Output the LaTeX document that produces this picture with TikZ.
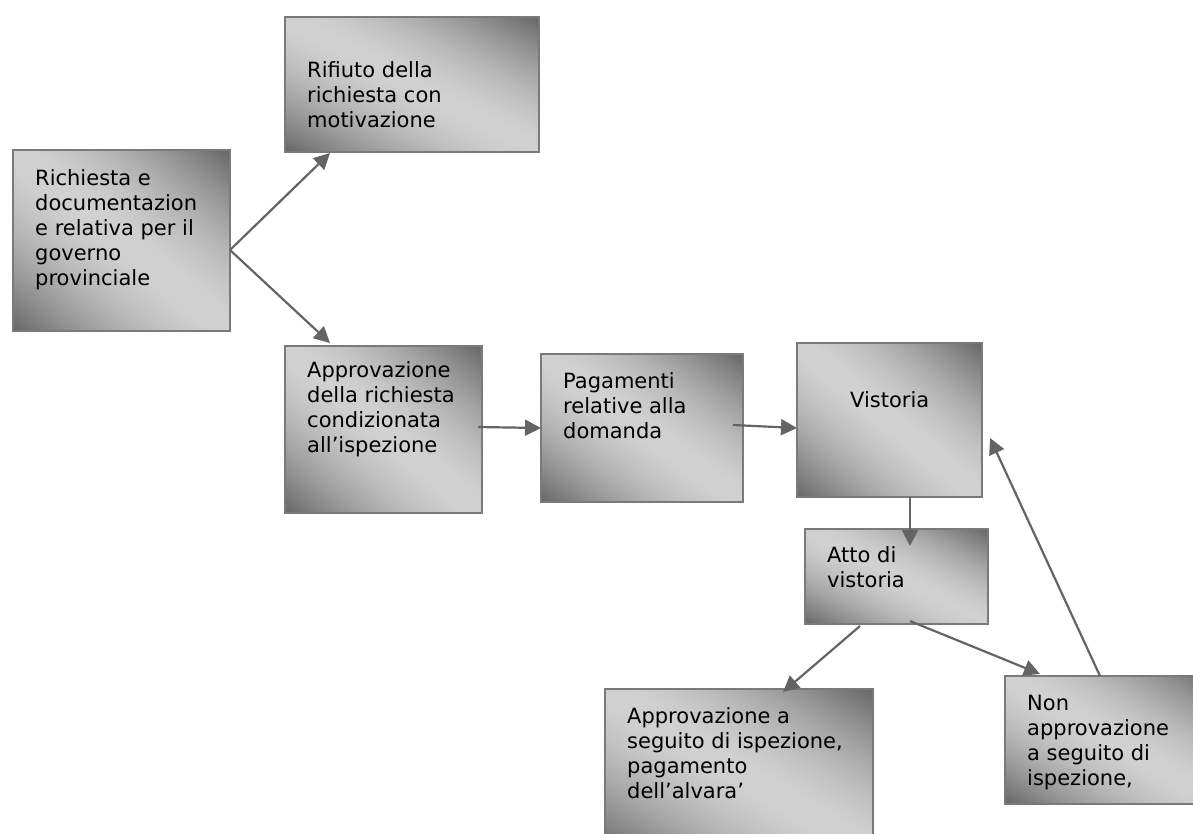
\documentclass[tikz,border=0pt]{standalone}
\usepackage{fontspec}
\setmainfont{DejaVu Sans}
\usetikzlibrary{arrows.meta,calc}
\definecolor{edge}{HTML}{7A7A7A}
\definecolor{arr}{HTML}{646464}
\pgfdeclarefunctionalshading{boxshade}{\pgfpoint{0bp}{0bp}}{\pgfpoint{100bp}{100bp}}{}{
  exch 25 sub 50 div exch 25 sub 50 div add 1 sub abs 1.6 exp 0.42 mul 0.82 exch sub dup dup }
\newcommand\boxlines[1]{\begin{tabular}[t]{@{}l@{}}#1\end{tabular}}
\begin{document}
\begin{tikzpicture}[x=1pt,y=-1pt,
  box/.style={draw=edge, line width=2.5pt, shading=boxshade,
    anchor=north west, inner sep=0pt, outer sep=0pt, rectangle},
  label/.style={anchor=base west, inner sep=0pt, text=black,
    font=\fontsize{21}{25}\selectfont},
  conn/.style={draw=arr, line width=2.2pt, -{Triangle[length=16pt,width=16pt]}}]
\useasboundingbox (0,0) rectangle (1193,833);
% boxes
\node[box, minimum width=217pt, minimum height=181pt] (ric) at (13,150) {};
\node[box, minimum width=254pt, minimum height=135pt] (rif) at (285,17) {};
\node[box, minimum width=197pt, minimum height=167pt] (app) at (285,346) {};
\node[box, minimum width=202pt, minimum height=148pt] (pag) at (541,354) {};
\node[box, minimum width=185pt, minimum height=154pt] (vis) at (797,343) {};
\node[box, minimum width=183pt, minimum height=95pt] (att) at (805,529) {};
\node[box, minimum width=268pt, minimum height=165pt] (aps) at (605,689) {};
\node[box, minimum width=215pt, minimum height=128pt] (non) at (1005,676) {};
% texts
\node[label] (tric) at (35,185) {\boxlines{Richiesta e\\documentazion\\e relativa per il\\governo\\provinciale}};
\node[label] (trif) at (307,77) {\boxlines{Rifiuto della\\richiesta con\\motivazione}};
\node[label] (tapp) at (307,377) {\boxlines{Approvazione\\della richiesta\\condizionata\\all’ispezione}};
\node[label] (tpag) at (563,388) {\boxlines{Pagamenti\\relative alla\\domanda}};
\node[label] (tvis) at (850,407) {Vistoria};
\node[label] (tatt) at (827,562) {\boxlines{Atto di\\vistoria}};
\node[label] (taps) at (627,723) {\boxlines{Approvazione a\\seguito di ispezione,\\pagamento\\dell’alvara’}};
\node[label] (tnon) at (1027,710) {\boxlines{Non\\approvazione\\a seguito di\\ispezione,}};
% connectors
\draw[conn] ([yshift=-9.5pt]ric.east) -- ([xshift=45pt,yshift=-1pt]rif.south west);
\draw[conn] ([yshift=-9.5pt]ric.east) -- ([xshift=45pt,yshift=3pt]app.north west);
\draw[conn] ([xshift=-4pt,yshift=2.5pt]app.east) -- (pag.west);
\draw[conn] ([xshift=-10pt,yshift=3pt]pag.east) -- ([yshift=-8pt]vis.west);
\draw[conn] ([xshift=20.5pt]vis.south) -- ([xshift=13.5pt,yshift=-17pt]att.north);
\draw[conn] ([xshift=-36.5pt,yshift=-2pt]att.south) -- ([xshift=178pt,yshift=-3pt]aps.north west);
\draw[conn] ([xshift=13.5pt,yshift=3pt]att.south) -- ([xshift=35pt,yshift=2pt]non.north west);
\draw[conn] ([xshift=95pt]non.north west) -- ([xshift=8pt,yshift=-18pt]vis.east);
\end{tikzpicture}
\end{document}
